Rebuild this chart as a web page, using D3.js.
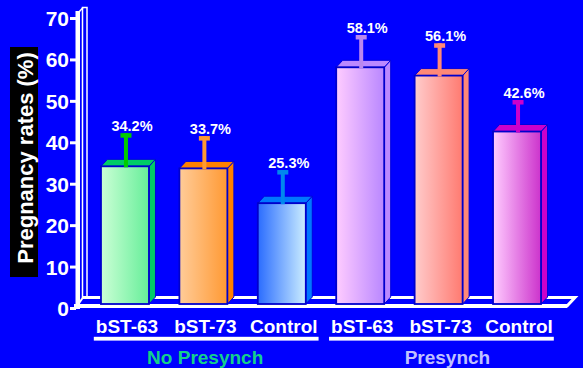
<!DOCTYPE html>
<html>
<head>
<meta charset="utf-8">
<script src="https://cdn.jsdelivr.net/npm/d3@7"></script>
<style>
  html, body { margin: 0; padding: 0; background: #0000ff; }
  svg { display: block; font-family: Arial, "Liberation Sans", sans-serif; }
</style>
</head>
<body>
<svg id="chart" width="583" height="368"></svg>
<script>
// Pregnancy rates by treatment, with and without presynchronization
const categories = ["bST-63", "bST-73", "Control", "bST-63", "bST-73", "Control"];
const groupOf = [0, 0, 0, 1, 1, 1];
const groups = ["No Presynch", "Presynch"];
const rates = [34.2, 33.7, 25.3, 58.1, 56.1, 42.6];
const errors = [8.0, 7.8, 8.0, 7.8, 7.8, 7.6];
const yTicks = [0, 10, 20, 30, 40, 50, 60, 70];

// Per-bar palette: front gradient (left, right), top/side face, error bar
const frontLeft  = ["#ccffd6", "#ffcc99", "#2a6cff", "#ffccff", "#ffcccc", "#ffccff"];
const frontRight = ["#66ee99", "#ff9933", "#cceeff", "#b987ff", "#ff7a70", "#cc33cc"];
const faceColor  = ["#00cc66", "#ff8000", "#0077ff", "#bb88ff", "#ff8877", "#cc00cc"];
const errColor   = ["#00cc00", "#ff9933", "#0088ee", "#bb88ee", "#ff8877", "#cc00cc"];
const groupColor = ["#14d08c", "#c0c0ff"];

const svg = d3.select("#chart");
const W = 583, H = 368;
svg.append("rect").attr("width", W).attr("height", H).attr("fill", "#0000ff");

const y = d3.scaleLinear().domain([0, 70]).range([308, 18]);
const x = d3.scaleBand().domain(d3.range(categories.length))
  .range([86, 556]).paddingInner(0.388).paddingOuter(0.191);

const dx = 6.5, dy = 7;          // 3D depth offset
const floorFront = 306, floorBack = 298.5;
const barBottom = 304;

// gradients
const defs = svg.append("defs");
rates.forEach((v, i) => {
  const g = defs.append("linearGradient").attr("id", "grad" + i)
    .attr("x1", "0%").attr("x2", "100%").attr("y1", "0%").attr("y2", "0%");
  g.append("stop").attr("offset", "0%").attr("stop-color", frontLeft[i]);
  g.append("stop").attr("offset", "100%").attr("stop-color", frontRight[i]);
});

// back wall (y axis) outline
const wall = svg.append("g").attr("fill", "none").attr("stroke", "#fff");
wall.append("rect").attr("x", 82.5).attr("y", 7.5).attr("width", 4.5).attr("height", 290)
  .attr("stroke-width", 1.5);
wall.append("path").attr("d", "M79,12 L83,7.5").attr("stroke-width", 1.5);

// floor slab
const floorRight = 567;
svg.append("path")
  .attr("d", `M80,${floorFront} L${floorRight},${floorFront} L${floorRight + 8},${floorBack - 1} L83,${floorBack - 1}`)
  .attr("fill", "#0000ff").attr("stroke", "#fff").attr("stroke-width", 3);
svg.append("line").attr("x1", 74).attr("x2", floorRight).attr("y1", floorFront).attr("y2", floorFront)
  .attr("stroke", "#fff").attr("stroke-width", 4);
svg.append("path").attr("d", `M83,${floorBack - 1} L77,${floorFront}`)
  .attr("stroke", "#fff").attr("stroke-width", 2);

// thick axis line
svg.append("rect").attr("x", 75.5).attr("y", 11).attr("width", 4.5).attr("height", 298).attr("fill", "#fff");

// y axis ticks and labels
const yAxis = d3.axisLeft(y).tickValues(yTicks).tickSize(6).tickPadding(1).tickFormat(d3.format("d"));
const gy = svg.append("g").attr("transform", "translate(76,0)").call(yAxis);
gy.select(".domain").remove();
gy.selectAll(".tick line").attr("stroke", "#fff").attr("stroke-width", 3);
gy.selectAll(".tick text").attr("fill", "#fff").attr("font-size", 21).attr("font-weight", "bold")
  .attr("dy", "0.36em");

// y title on black band
svg.append("rect").attr("x", 10).attr("y", 47).attr("width", 28).attr("height", 230).attr("fill", "#000");
svg.append("text").attr("transform", "translate(33,158) rotate(-90)")
  .attr("text-anchor", "middle").attr("fill", "#fff").attr("font-size", 22).attr("font-weight", "bold")
  .text("Pregnancy rates (%)");

// bars
const bars = svg.append("g").selectAll("g").data(rates).join("g");
bars.each(function (v, i) {
  const g = d3.select(this);
  const x0 = x(i), bw = x.bandwidth(), yt = y(v);
  // side face
  g.append("path")
    .attr("d", `M${x0 + bw},${yt} L${x0 + bw + dx},${yt - dy} L${x0 + bw + dx},${barBottom - dy} L${x0 + bw},${barBottom} Z`)
    .attr("fill", faceColor[i]).attr("stroke", "#0000dd").attr("stroke-width", 1);
  // top face
  g.append("path")
    .attr("d", `M${x0},${yt} L${x0 + dx},${yt - dy} L${x0 + bw + dx},${yt - dy} L${x0 + bw},${yt} Z`)
    .attr("fill", faceColor[i]).attr("stroke", "#0000dd").attr("stroke-width", 1);
  // front face
  g.append("rect").attr("x", x0).attr("y", yt).attr("width", bw).attr("height", barBottom - yt)
    .attr("fill", `url(#grad${i})`).attr("stroke", "#0000cc").attr("stroke-width", 1.8);
  // error bar
  const cx = x0 + bw / 2 + 1, ye = y(v + errors[i]);
  g.append("rect").attr("x", cx - 2).attr("y", ye).attr("width", 4).attr("height", yt + 1 - ye)
    .attr("fill", errColor[i]);
  g.append("rect").attr("x", cx - 5.5).attr("y", ye).attr("width", 11).attr("height", 4.5)
    .attr("fill", errColor[i]);
  // value label
  g.append("text").attr("x", cx + 6).attr("y", ye - 2).attr("text-anchor", "middle")
    .attr("fill", "#fff").attr("font-size", 14.5).attr("font-weight", "bold")
    .text(v.toFixed(1) + "%");
});

// category labels
const catText = svg.append("g").selectAll("text").data(categories).join("text")
  .attr("x", (d, i) => x(i) + x.bandwidth() / 2 + 2)
  .attr("y", 333)
  .attr("text-anchor", "middle").attr("fill", "#fff").attr("font-size", 19).attr("font-weight", "bold")
  .text(d => d);

// group underlines and group labels
groups.forEach((name, gi) => {
  const idx = d3.range(categories.length).filter(i => groupOf[i] === gi);
  const boxes = idx.map(i => catText.nodes()[i].getBBox());
  const left = d3.min(boxes, b => b.x) - 2, right = d3.max(boxes, b => b.x + b.width) + 1;
  svg.append("rect").attr("x", left).attr("y", 336.8).attr("width", right - left).attr("height", 3.8)
    .attr("fill", "#fff");
  svg.append("text").attr("x", (left + right) / 2 + (gi === 1 ? 6 : -1)).attr("y", 364)
    .attr("text-anchor", "middle").attr("fill", groupColor[gi]).attr("font-size", 19).attr("font-weight", "bold")
    .text(name);
});
</script>
</body>
</html>
